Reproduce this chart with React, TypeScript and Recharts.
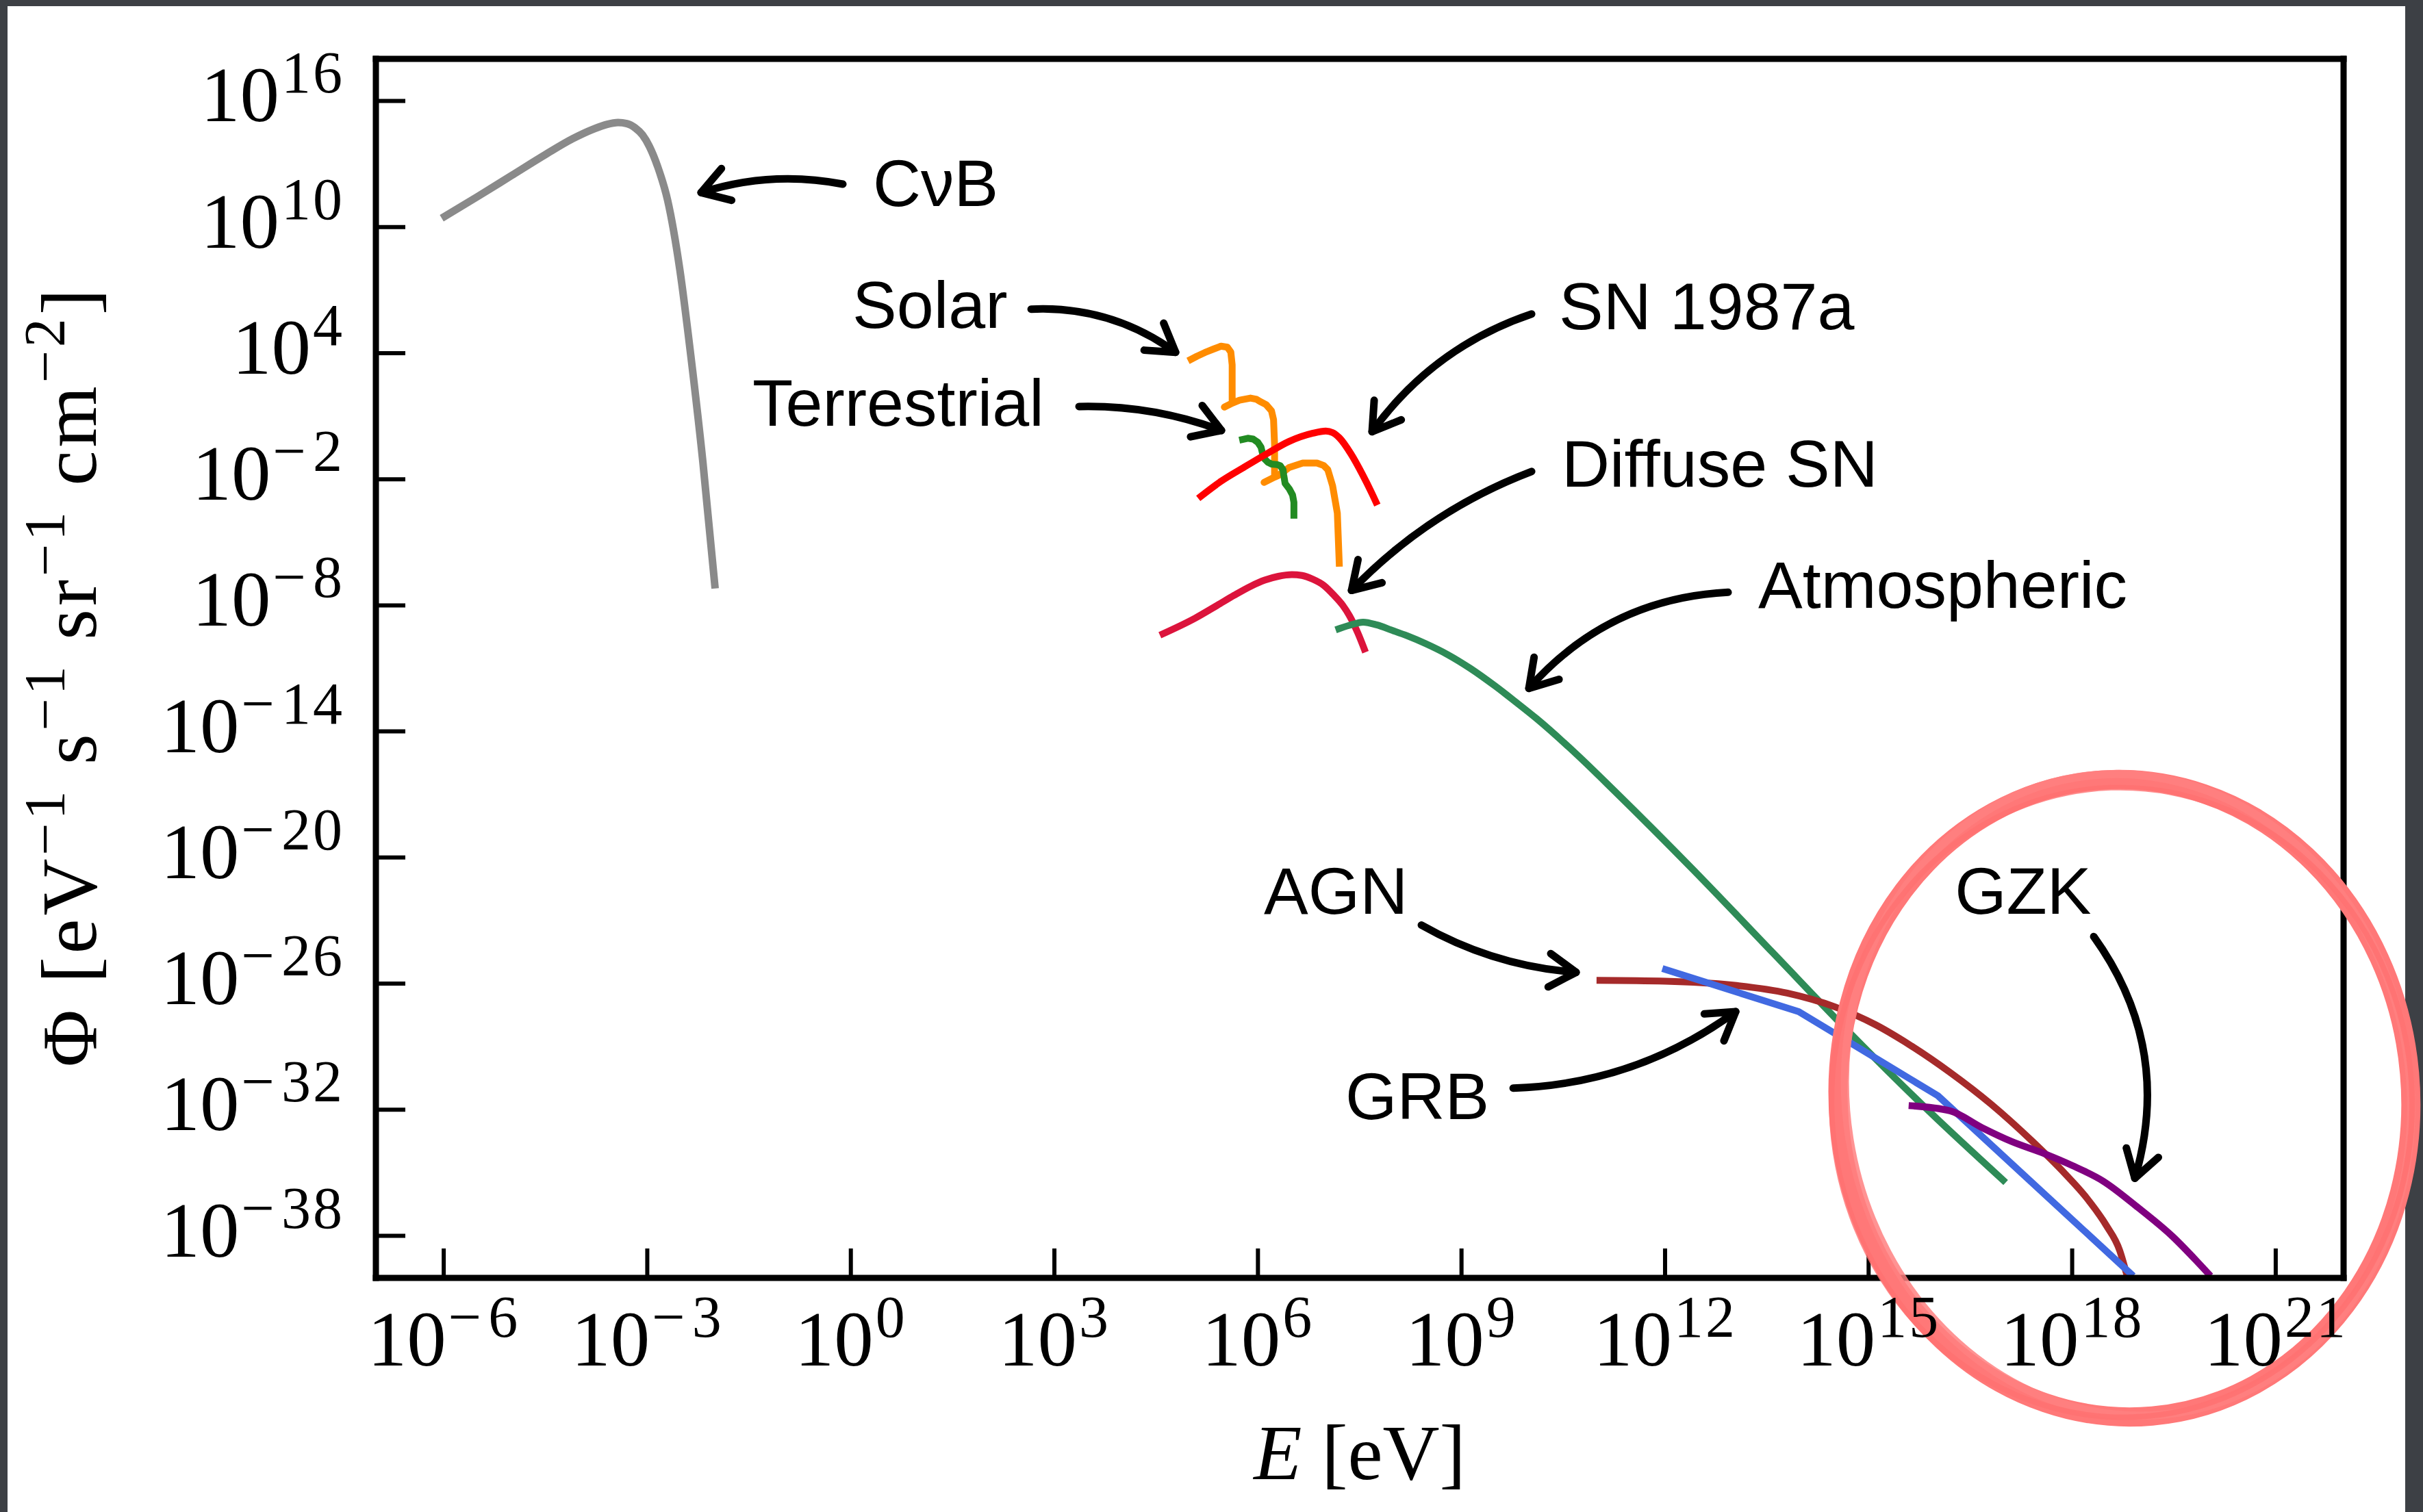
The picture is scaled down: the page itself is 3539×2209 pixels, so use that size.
import React from "react";
import { LineChart, Line, XAxis, YAxis, ReferenceLine, ReferenceDot } from "recharts";

// all values are log10: energy in eV, flux in eV^-1 s^-1 sr^-1 cm^-2
const cnbLogE = [-6.03, -5.5, -5.0, -4.5, -4.1, -3.8, -3.6, -3.43, -3.3, -3.18, -3.07, -2.97, -2.85, -2.7, -2.52, -2.36, -2.18, -2.0];
const cnbLogFlux = [10.42, 11.45, 12.45, 13.45, 14.2, 14.65, 14.88, 14.97, 14.92, 14.72, 14.38, 13.84, 12.9, 11.27, 7.96, 3.92, -1.2, -7.2];

const solarLogE = [4.97, 5.1, 5.22, 5.35, 5.455, 5.55, 5.6, 5.62, 5.62, 5.62, 5.505, 5.62, 5.73, 5.89, 5.98, 6.03, 6.12, 6.2, 6.23, 6.245, 6.245, 6.09, 6.245, 6.3, 6.46, 6.66, 6.87, 6.97, 7.03, 7.1, 7.17, 7.2];
const solarLogFlux = [3.63, 3.85, 4.03, 4.2, 4.33, 4.28, 4.05, 3.44, 2.5, 1.62, 1.43, 1.62, 1.76, 1.86, 1.8, 1.7, 1.55, 1.25, 0.83, -0.36, -1.9, -2.15, -1.9, -1.82, -1.44, -1.23, -1.23, -1.35, -1.55, -2.31, -3.61, -6.16];

const terrLogE = [5.725, 5.85, 5.93, 6.0, 6.045, 6.07, 6.09, 6.15, 6.2, 6.28, 6.33, 6.37, 6.38, 6.4, 6.46, 6.51, 6.53, 6.53];
const terrLogFlux = [-0.14, -0.05, -0.09, -0.25, -0.47, -0.8, -1.01, -1.2, -1.28, -1.3, -1.36, -1.55, -1.8, -2.2, -2.45, -2.75, -3.1, -3.88];

const sn1987LogE = [5.12, 5.455, 5.79, 6.13, 6.46, 6.8, 7.0, 7.1, 7.2, 7.37, 7.54, 7.675, 7.76];
const sn1987LogFlux = [-2.91, -2.1, -1.44, -0.79, -0.2, 0.18, 0.29, 0.22, -0.03, -0.79, -1.77, -2.64, -3.23];

const diffuseLogE = [4.555, 5.075, 5.4, 5.65, 5.9, 6.1, 6.3, 6.5, 6.65, 6.81, 6.97, 7.12, 7.25, 7.35, 7.47, 7.585];
const diffuseLogFlux = [-9.42, -8.61, -8.0, -7.52, -7.08, -6.8, -6.62, -6.54, -6.58, -6.76, -7.05, -7.52, -8.0, -8.5, -9.3, -10.23];

const atmoLogE = [7.145, 7.35, 7.55, 7.75, 7.97, 8.2, 8.47, 8.8, 9.13, 9.5, 9.8, 10.11, 10.7, 11.26, 12.42, 13.58, 14.74, 15.9, 17.02];
const atmoLogFlux = [-9.17, -8.95, -8.8, -8.93, -9.18, -9.45, -9.82, -10.35, -11.0, -11.85, -12.6, -13.4, -15.1, -16.85, -20.6, -24.5, -28.4, -32.1, -35.46];

const agnLogE = [10.99, 12.0, 13.0, 13.8, 14.5, 15.1, 15.6, 16.2, 16.8, 17.4, 17.9, 18.2, 18.5, 18.7, 18.81];
const agnLogFlux = [-25.84, -25.88, -26.07, -26.45, -27.1, -27.95, -28.9, -30.22, -31.72, -33.46, -35.06, -36.14, -37.49, -38.69, -39.91];

const grbLogE = [11.96, 13.97, 16.02, 18.9];
const grbLogFlux = [-25.28, -27.33, -31.33, -39.91];

const gzkLogE = [15.59, 16.2, 16.67, 17.1, 17.6, 18.0, 18.45, 18.97, 19.48, 19.83, 20.04];
const gzkLogFlux = [-31.8, -32.05, -32.85, -33.5, -34.1, -34.65, -35.38, -36.65, -38.03, -39.18, -39.91];

const xTicks = [-6, -3, 0, 3, 6, 9, 12, 15, 18, 21];
const yTicks = [16, 10, 4, -2, -8, -14, -20, -26, -32, -38];

// annotation text, anchored at left/baseline
const labelText = ["C\u03bdB", "Solar", "Terrestrial", "SN 1987a", "Diffuse SN", "Atmospheric", "AGN", "GRB", "GZK"];
const labelLogE = [0.326, 0.023, -1.45, 10.437, 10.477, 13.373, 6.088, 7.289, 16.27];
const labelLogFlux = [11.0, 5.21, 0.55, 5.14, -2.35, -8.11, -22.66, -32.46, -22.66];

// arrows: tail -> tip, bend = bulge of the curve relative to its length
const arrowTailE = [-0.118, 2.657, 3.363, 10.033, 10.033, 12.929, 8.409, 9.761, 18.318];
const arrowTailF = [12.04, 6.09, 1.46, 5.86, -1.63, -7.38, -23.21, -30.97, -23.76];
const arrowTipE = [-2.207, 4.786, 5.462, 7.682, 7.379, 9.993, 10.689, 13.041, 18.924];
const arrowTipF = [11.64, 4.04, 0.32, 0.26, -7.29, -11.95, -25.46, -27.33, -35.26];
const arrowBend = [0.064, -0.087, -0.048, 0.08, 0.056, 0.105, 0.056, 0.077, -0.122];

// centre of the hand-drawn ring around the GZK region
const ringLogE = 18.77;
const ringLogFlux = -31.45;

const SERIF = "'Liberation Serif', 'DejaVu Serif', serif";
const SANS = "'Liberation Sans', Arial, sans-serif";

const zip = (xs: number[], ys: number[]) => xs.map((x, i) => ({ x, y: ys[i] }));

const series = [
  { name: "CvB", data: zip(cnbLogE, cnbLogFlux), color: "#8a8a8a", type: "monotone", width: 11 },
  { name: "Solar", data: zip(solarLogE, solarLogFlux), color: "#ff8c00", type: "linear", width: 10 },
  { name: "Terrestrial", data: zip(terrLogE, terrLogFlux), color: "#228b22", type: "linear", width: 10 },
  { name: "SN 1987a", data: zip(sn1987LogE, sn1987LogFlux), color: "#ff0000", type: "monotone", width: 10 },
  { name: "Diffuse SN", data: zip(diffuseLogE, diffuseLogFlux), color: "#dc143c", type: "monotone", width: 10 },
  { name: "Atmospheric", data: zip(atmoLogE, atmoLogFlux), color: "#2e8b57", type: "monotone", width: 10 },
  { name: "AGN", data: zip(agnLogE, agnLogFlux), color: "#a52a2a", type: "monotone", width: 10 },
  { name: "GRB", data: zip(grbLogE, grbLogFlux), color: "#4169e1", type: "linear", width: 10 },
  { name: "GZK", data: zip(gzkLogE, gzkLogFlux), color: "#800080", type: "monotone", width: 10 },
];

const TICK = 43;

// "10" with a TeX-like superscript exponent (wide minus sign)
function Power({ v }: { v: number }) {
  return (
    <>
      10
      {v < 0 ? (
        <>
          <tspan fontSize={86} dy={-42} dx={3}>{"\u2212"}</tspan>
          <tspan fontSize={86} dx={10} letterSpacing={3}>{String(-v)}</tspan>
        </>
      ) : (
        <tspan fontSize={86} dy={-42} dx={3} letterSpacing={3}>{String(v)}</tspan>
      )}
    </>
  );
}

function XTick({ x, y, payload }: any) {
  return (
    <text x={x} y={y + TICK + 128} textAnchor="middle" fontFamily={SERIF} fontSize={115} fill="#000">
      <Power v={payload.value} />
    </text>
  );
}

function YTick({ x, y, payload }: any) {
  return (
    <text x={x - TICK - 46} y={y + 30} textAnchor="end" fontFamily={SERIF} fontSize={115} fill="#000">
      <Power v={payload.value} />
    </text>
  );
}

function XTitle({ viewBox }: any) {
  const { x, y, width } = viewBox;
  return (
    <text x={x + width / 2} y={y + 294} textAnchor="middle" fontFamily={SERIF} fontSize={115} fill="#000">
      <tspan fontStyle="italic">E</tspan> [eV]
    </text>
  );
}

function YTitle({ viewBox }: any) {
  const cx = viewBox.x + 40;
  const cy = viewBox.y + viewBox.height / 2 + 14;
  const up = -46;
  return (
    <text
      x={cx}
      y={cy}
      transform={`rotate(-90, ${cx}, ${cy})`}
      textAnchor="middle"
      fontFamily={SERIF}
      fontSize={115}
      fill="#000"
      textLength={1137}
      lengthAdjust="spacing"
      style={{ whiteSpace: "pre" }}
    >
      {"\u03a6 [eV"}
      <tspan fontSize={84} dy={up}>{"\u22121"}</tspan>
      <tspan dy={-up}>{" s"}</tspan>
      <tspan fontSize={84} dy={up}>{"\u22121"}</tspan>
      <tspan dy={-up}>{" sr"}</tspan>
      <tspan fontSize={84} dy={up}>{"\u22121"}</tspan>
      <tspan dy={-up}>{" cm"}</tspan>
      <tspan fontSize={84} dy={up}>{"\u22122"}</tspan>
      <tspan dy={-up}>{"]"}</tspan>
    </text>
  );
}

function Arrow({ x1, y1, x2, y2, bend }: any) {
  const dx = x2 - x1;
  const dy = y2 - y1;
  const len = Math.hypot(dx, dy);
  const nx = -dy / len;
  const ny = dx / len;
  const off = 2 * bend * len;
  const cx = (x1 + x2) / 2 + nx * off;
  const cy = (y1 + y2) / 2 + ny * off;
  const ux = x2 - cx;
  const uy = y2 - cy;
  const ul = Math.hypot(ux, uy);
  const ex = ux / ul;
  const ey = uy / ul;
  const head = 46;
  const a = (32 * Math.PI) / 180;
  const w1x = x2 - head * (ex * Math.cos(a) - ey * Math.sin(a));
  const w1y = y2 - head * (ex * Math.sin(a) + ey * Math.cos(a));
  const w2x = x2 - head * (ex * Math.cos(a) + ey * Math.sin(a));
  const w2y = y2 - head * (-ex * Math.sin(a) + ey * Math.cos(a));
  return (
    <g fill="none" stroke="#000" strokeWidth={11} strokeLinecap="round" strokeLinejoin="round">
      <path d={`M${x1},${y1} Q${cx},${cy} ${x2},${y2}`} />
      <path d={`M${w1x},${w1y} L${x2},${y2} L${w2x},${w2y}`} />
    </g>
  );
}

function Ring({ cx, cy }: any) {
  return (
    <g fill="none">
      <ellipse cx={cx} cy={cy} rx={418} ry={466} stroke="#ff7878" strokeWidth={28} transform={`rotate(-5, ${cx}, ${cy})`} />
      <ellipse cx={cx + 6} cy={cy - 4} rx={412} ry={470} stroke="#ff8080" strokeWidth={12} opacity={0.85} transform={`rotate(-9, ${cx}, ${cy})`} />
      <ellipse cx={cx - 4} cy={cy + 6} rx={424} ry={460} stroke="#ff7070" strokeWidth={8} opacity={0.8} transform={`rotate(-2, ${cx}, ${cy})`} />
    </g>
  );
}

export default function App() {
  const axisLine = { stroke: "#000", strokeWidth: 9, strokeLinecap: "square" as const };
  const tickLine = { stroke: "#000", strokeWidth: 6 };
  return (
    <div style={{ position: "absolute", left: 0, top: 0, width: 3539, height: 2209, background: "#3d4045", overflow: "hidden" }}>
      <div style={{ position: "absolute", left: 11, top: 9, width: 3502, height: 2200, background: "#fff" }} />
      <div style={{ position: "absolute", left: 0, top: 0 }}>
        <LineChart width={3539} height={2209} margin={{ top: 85, right: 115, bottom: 182, left: 100 }}>
          <XAxis
            type="number"
            dataKey="x"
            domain={[-7, 22]}
            ticks={xTicks}
            interval={0}
            allowDataOverflow
            height={160}
            axisLine={axisLine}
            tickLine={tickLine}
            tickSize={-TICK}
            tickMargin={0}
            tick={(p: any) => <XTick {...p} />}
            label={{ content: (p: any) => <XTitle {...p} /> }}
          />
          <XAxis
            xAxisId="top"
            orientation="top"
            type="number"
            dataKey="x"
            domain={[-7, 22]}
            ticks={xTicks}
            interval={0}
            allowDataOverflow
            height={1}
            axisLine={axisLine}
            tickLine={tickLine}
            tickSize={-TICK}
            tick={false}
          />
          <YAxis
            type="number"
            domain={[-40, 18]}
            ticks={yTicks}
            interval={0}
            allowDataOverflow
            width={449}
            axisLine={axisLine}
            tickLine={tickLine}
            tickSize={-TICK}
            tickMargin={0}
            tick={(p: any) => <YTick {...p} />}
            label={{ content: (p: any) => <YTitle {...p} /> }}
          />
          <YAxis
            yAxisId="right"
            orientation="right"
            type="number"
            domain={[-40, 18]}
            ticks={yTicks}
            interval={0}
            allowDataOverflow
            width={1}
            axisLine={axisLine}
            tickLine={tickLine}
            tickSize={-TICK}
            tick={false}
          />
          {series.map((s) => (
            <Line
              key={s.name}
              data={s.data}
              dataKey="y"
              type={s.type as any}
              stroke={s.color}
              strokeWidth={s.width}
              strokeLinejoin="round"
              dot={false}
              activeDot={false}
              isAnimationActive={false}
            />
          ))}
          {labelText.map((t, i) => (
            <ReferenceDot
              key={"lbl" + i}
              x={labelLogE[i]}
              y={labelLogFlux[i]}
              ifOverflow="visible"
              shape={(p: any) => (
                <text x={p.cx} y={p.cy} fontFamily={SANS} fontSize={97} fill="#000">
                  {t}
                </text>
              )}
            />
          ))}
          {arrowBend.map((b, i) => (
            <ReferenceLine
              key={"arr" + i}
              segment={[
                { x: arrowTailE[i], y: arrowTailF[i] },
                { x: arrowTipE[i], y: arrowTipF[i] },
              ]}
              ifOverflow="visible"
              shape={(p: any) => <Arrow {...p} bend={b} />}
            />
          ))}
          <ReferenceDot x={ringLogE} y={ringLogFlux} ifOverflow="visible" shape={(p: any) => <Ring {...p} />} />
        </LineChart>
      </div>
    </div>
  );
}
